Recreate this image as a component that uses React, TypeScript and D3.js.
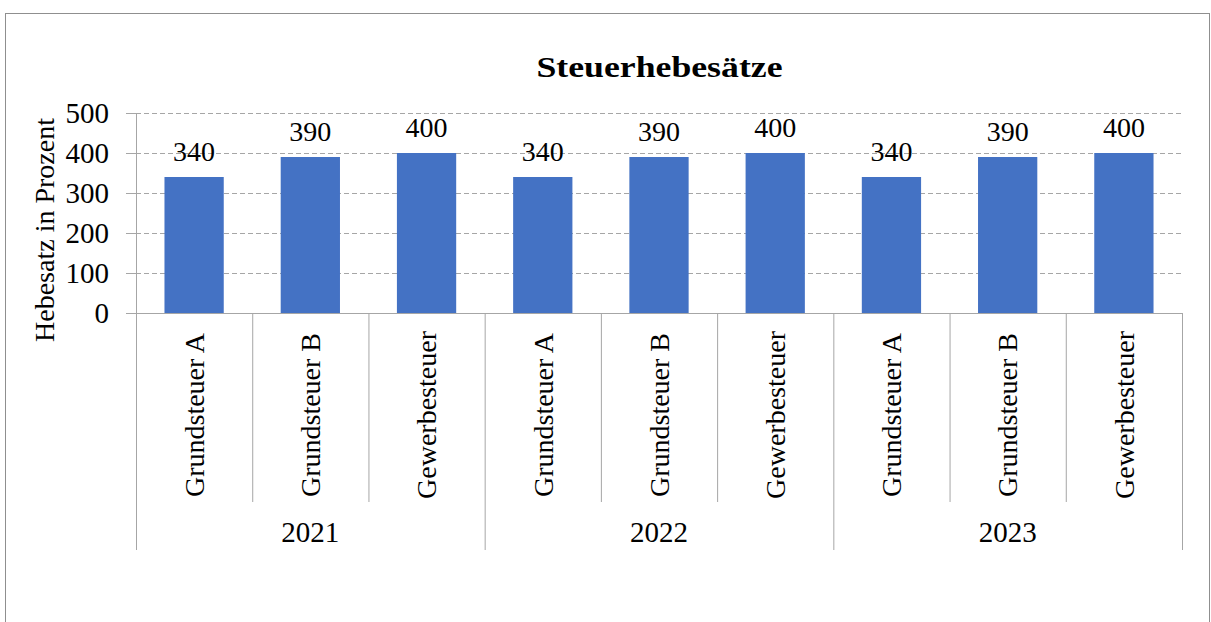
import React from "react";
import * as d3 from "d3";

const years = ["2021", "2022", "2023"];
const taxTypes = ["Grundsteuer A", "Grundsteuer B", "Gewerbesteuer"];
const values2021 = [340, 390, 400];
const values2022 = [340, 390, 400];
const values2023 = [340, 390, 400];
const yTicks = [0, 100, 200, 300, 400, 500];
const title = "Steuerhebesätze";
const yTitle = "Hebesatz in Prozent";

const seriesByYear = [values2021, values2022, values2023];

export default function App() {
  const W = 1211, H = 622;
  const left = 136, right = 1182, top = 113, bottom = 313;
  const font = "'Liberation Serif', 'Times New Roman', Times, serif";
  const rows = years.flatMap((y, yi) =>
    taxTypes.map((t, ti) => ({ year: y, type: t, key: `${y}-${t}`, value: seriesByYear[yi][ti] }))
  );
  const x = d3.scaleBand<string>().domain(rows.map(r => r.key)).range([left, right]).padding(0);
  const xYear = d3.scaleBand<string>().domain(years).range([left, right]).padding(0);
  const y = d3.scaleLinear().domain([0, 500]).range([bottom, top]);
  const bw = x.bandwidth() * 0.51;
  const gridColor = "#a6a6a6";
  const axisColor = "#a6a6a6";

  return (
    <svg width={W} height={H} style={{ position: "absolute", left: 0, top: 0, background: "#fff", fontFamily: font }}>
      <rect x={5.5} y={13.5} width={1204} height={640} fill="#fff" stroke="#8f8f8f" strokeWidth={1} />
      <text x={659.5} y={77} textAnchor="middle" fontWeight="bold" fontSize={29.5} textLength={246}
        lengthAdjust="spacingAndGlyphs" fill="#000">{title}</text>
      {yTicks.map(t => (
        <g key={t}>
          {t > 0 && (
            <line x1={left} x2={right} y1={y(t) + 0.5} y2={y(t) + 0.5} stroke={gridColor} strokeDasharray="5,3" />
          )}
          <line x1={126} x2={left} y1={y(t) + 0.5} y2={y(t) + 0.5} stroke={axisColor} />
          <text x={109} y={y(t)} dy="0.35em" textAnchor="end" fontSize={29} fill="#000">{t}</text>
        </g>
      ))}
      {rows.map(r => (
        <rect key={r.key} x={(x(r.key) as number) + (x.bandwidth() - bw) / 2} y={y(r.value)} width={bw}
          height={y(0) - y(r.value)} fill="#4472c4" />
      ))}
      <line x1={left} x2={right} y1={bottom + 0.5} y2={bottom + 0.5} stroke={axisColor} />
      <line x1={left + 0.5} x2={left + 0.5} y1={top} y2={bottom} stroke={axisColor} />
      {rows.map((r, i) => i % 3 !== 0 ? (
        <line key={"s" + r.key} x1={(x(r.key) as number) + 0.5} x2={(x(r.key) as number) + 0.5} y1={bottom} y2={502} stroke={axisColor} />
      ) : null)}
      {years.map(yr => (
        <line key={"g" + yr} x1={(xYear(yr) as number) + 0.5} x2={(xYear(yr) as number) + 0.5} y1={bottom} y2={550} stroke={axisColor} />
      ))}
      <line x1={right + 0.5} x2={right + 0.5} y1={bottom} y2={550} stroke={axisColor} />
      {rows.map(r => (
        <text key={"v" + r.key} x={(x(r.key) as number) + x.bandwidth() / 2} y={y(r.value) - 16}
          textAnchor="middle" fontSize={28} fill="#000">{r.value}</text>
      ))}
      {rows.map(r => {
        const cx = (x(r.key) as number) + x.bandwidth() / 2;
        return (
          <text key={"c" + r.key} transform={`translate(${cx},415) rotate(-90)`} textAnchor="middle" dy="0.35em"
            fontSize={28} fill="#000">{r.type}</text>
        );
      })}
      {years.map(yr => (
        <text key={"y" + yr} x={(xYear(yr) as number) + xYear.bandwidth() / 2} y={542} textAnchor="middle" fontSize={29} fill="#000">{yr}</text>
      ))}
      <text transform="translate(44,230) rotate(-90)" textAnchor="middle" dy="0.35em" fontSize={28} fill="#000">{yTitle}</text>
    </svg>
  );
}
